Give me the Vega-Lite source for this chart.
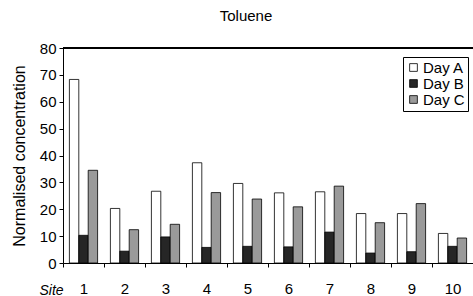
{
  "$schema": "https://vega.github.io/schema/vega-lite/v6.json",
  "width": 410,
  "height": 215,
  "autosize": "none",
  "padding": {"left": 63, "top": 48, "right": 0, "bottom": 33},
  "background": "white",
  "title": {"text": "Toluene", "fontSize": 15, "fontWeight": "normal", "font": "Liberation Sans", "color": "black", "anchor": "middle", "dx": -22, "offset": 17},
  "data": {"values": [
    {"site": 1, "day": "Day A", "value": 68.3}, {"site": 1, "day": "Day B", "value": 10.3}, {"site": 1, "day": "Day C", "value": 34.5},
    {"site": 2, "day": "Day A", "value": 20.3}, {"site": 2, "day": "Day B", "value": 4.4}, {"site": 2, "day": "Day C", "value": 12.4},
    {"site": 3, "day": "Day A", "value": 26.7}, {"site": 3, "day": "Day B", "value": 9.7}, {"site": 3, "day": "Day C", "value": 14.4},
    {"site": 4, "day": "Day A", "value": 37.3}, {"site": 4, "day": "Day B", "value": 5.8}, {"site": 4, "day": "Day C", "value": 26.2},
    {"site": 5, "day": "Day A", "value": 29.6}, {"site": 5, "day": "Day B", "value": 6.2}, {"site": 5, "day": "Day C", "value": 23.8},
    {"site": 6, "day": "Day A", "value": 26.1}, {"site": 6, "day": "Day B", "value": 6.0}, {"site": 6, "day": "Day C", "value": 20.9},
    {"site": 7, "day": "Day A", "value": 26.5}, {"site": 7, "day": "Day B", "value": 11.5}, {"site": 7, "day": "Day C", "value": 28.6},
    {"site": 8, "day": "Day A", "value": 18.4}, {"site": 8, "day": "Day B", "value": 3.7}, {"site": 8, "day": "Day C", "value": 15.0},
    {"site": 9, "day": "Day A", "value": 18.4}, {"site": 9, "day": "Day B", "value": 4.2}, {"site": 9, "day": "Day C", "value": 22.1},
    {"site": 10, "day": "Day A", "value": 11.0}, {"site": 10, "day": "Day B", "value": 6.2}, {"site": 10, "day": "Day C", "value": 9.3}
  ]},
  "layer": [
    {
      "mark": {"type": "bar", "stroke": "black", "strokeWidth": 0.8},
      "encoding": {
        "x": {"field": "site", "type": "ordinal", "sort": "ascending",
          "scale": {"paddingInner": 0, "paddingOuter": 0},
          "axis": {"title": "Site", "titleFontStyle": "italic", "titleFontWeight": "normal", "titleFontSize": 14, "titleX": -12, "titleY": 27, "titleBaseline": "middle", "titleAlign": "center", "labelAngle": 0, "labelFontSize": 15, "labelPadding": 14, "tickSize": 4, "tickBand": "extent", "domainColor": "black", "tickColor": "black", "labelColor": "black", "titleColor": "black", "grid": false}},
        "xOffset": {"field": "day", "type": "nominal", "scale": {"paddingOuter": 0.68, "paddingInner": 0}},
        "y": {"field": "value", "type": "quantitative",
          "scale": {"domain": [0, 80], "nice": false},
          "axis": {"values": [0, 10, 20, 30, 40, 50, 60, 70, 80], "labelOverlap": false, "title": "Normalised concentration", "titleFontSize": 16, "titleFontWeight": "normal", "titleX": -44, "titleY": 107.5, "titleBaseline": "middle", "titleAlign": "center", "labelFontSize": 15, "labelPadding": 3, "tickSize": 4, "domainColor": "black", "tickColor": "black", "labelColor": "black", "titleColor": "black", "grid": false}},
        "color": {"field": "day", "type": "nominal",
          "scale": {"domain": ["Day A", "Day B", "Day C"], "range": ["#ffffff", "#262626", "#9a9a9a"]},
          "legend": {"title": null, "orient": "none", "legendX": 340, "legendY": 9, "strokeColor": "black", "fillColor": "white", "padding": 3, "symbolType": "square", "symbolSize": 60, "symbolStrokeColor": "black", "symbolStrokeWidth": 0.8, "labelFontSize": 15, "labelColor": "black", "rowPadding": 0, "labelOffset": 2}}
      }
    },
    {
      "mark": {"type": "rule", "color": "black", "strokeWidth": 1},
      "encoding": {"y": {"datum": 80, "type": "quantitative",
          "axis": {"values": [0, 10, 20, 30, 40, 50, 60, 70, 80], "labelOverlap": false, "title": "Normalised concentration", "titleFontSize": 16, "titleFontWeight": "normal", "titleX": -44, "titleY": 107.5, "titleBaseline": "middle", "titleAlign": "center", "labelFontSize": 15, "labelPadding": 3, "tickSize": 4, "domainColor": "black", "tickColor": "black", "labelColor": "black", "titleColor": "black", "grid": false}}}
    }
  ],
  "config": {
    "view": {"stroke": null},
    "font": "Liberation Sans",
    "axis": {"labelFont": "Liberation Sans", "titleFont": "Liberation Sans"},
    "legend": {"labelFont": "Liberation Sans"}
  }
}
